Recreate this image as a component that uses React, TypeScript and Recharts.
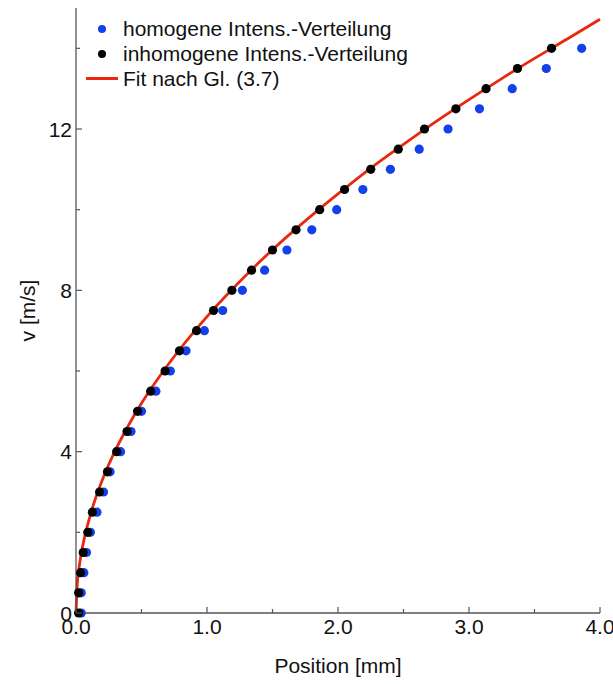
import { ComposedChart, Scatter, Line, XAxis, YAxis, Label } from 'recharts';

// v values (m/s), same for both measurement series
const vHomogen = [0, 0.5, 1, 1.5, 2, 2.5, 3, 3.5, 4, 4.5, 5, 5.5, 6, 6.5, 7, 7.5, 8, 8.5, 9, 9.5, 10, 10.5, 11, 11.5, 12, 12.5, 13, 13.5, 14];
const xHomogen = [0.04, 0.04, 0.06, 0.08, 0.11, 0.16, 0.21, 0.26, 0.34, 0.42, 0.5, 0.61, 0.72, 0.84, 0.98, 1.12, 1.27, 1.44, 1.61, 1.8, 1.99, 2.19, 2.4, 2.62, 2.84, 3.08, 3.33, 3.59, 3.86];

const vInhomogen = [0, 0.5, 1, 1.5, 2, 2.5, 3, 3.5, 4, 4.5, 5, 5.5, 6, 6.5, 7, 7.5, 8, 8.5, 9, 9.5, 10, 10.5, 11, 11.5, 12, 12.5, 13, 13.5, 14];
const xInhomogen = [0.02, 0.02, 0.035, 0.055, 0.09, 0.125, 0.18, 0.24, 0.31, 0.39, 0.47, 0.57, 0.68, 0.79, 0.92, 1.05, 1.19, 1.34, 1.5, 1.68, 1.86, 2.05, 2.25, 2.46, 2.66, 2.9, 3.13, 3.37, 3.63];

// Fit nach Gl. (3.7)
const xFit = [0, 0.01, 0.02, 0.04, 0.07, 0.1, 0.15, 0.2, 0.3, 0.4, 0.5, 0.6, 0.8, 1.0, 1.2, 1.4, 1.6, 1.8, 2.0, 2.25, 2.5, 2.75, 3.0, 3.25, 3.5, 3.75, 4.0];
const vFit = [0, 0.74, 1.04, 1.47, 1.94, 2.32, 2.85, 3.29, 4.03, 4.65, 5.2, 5.69, 6.57, 7.35, 8.05, 8.7, 9.3, 9.86, 10.39, 11.03, 11.62, 12.19, 12.73, 13.25, 13.75, 14.23, 14.72];

const xTicks = [0, 0.5, 1, 1.5, 2, 2.5, 3, 3.5, 4];
const yTicks = [0, 2, 4, 6, 8, 10, 12, 14];

const homogenData = xHomogen.map((x, i) => ({ x, v: vHomogen[i] }));
const inhomogenData = xInhomogen.map((x, i) => ({ x, v: vInhomogen[i] }));
const fitData = xFit.map((x, i) => ({ x, v: vFit[i] }));

const BLUE = '#1240ea';
const RED = '#e8290f';
const FRAME = '#555';
const FONT = '"Liberation Sans", Arial, Helvetica, sans-serif';

const Dot = (props: any) => {
  const { cx, cy, fill } = props;
  if (cx == null || cy == null) return null;
  return <circle cx={cx} cy={cy} r={4.6} fill={fill} />;
};

const isMajorX = (v: number) => Number.isInteger(v);
const isMajorY = (v: number) => v % 4 === 0;

const BottomTick = (props: any) => {
  const { x, y, payload } = props;
  const major = isMajorX(payload.value);
  return (
    <g>
      <line x1={x} y1={y} x2={x} y2={y - (major ? 6 : 4)} stroke={FRAME} strokeWidth={1.2} />
      {major && (
        <text x={x} y={y + 21} textAnchor="middle" fontSize={21} fill="#111" fontFamily={FONT}>
          {payload.value.toFixed(1)}
        </text>
      )}
    </g>
  );
};

const TopTick = (props: any) => {
  const { x, y, payload } = props;
  const major = isMajorX(payload.value);
  return <line x1={x} y1={y} x2={x} y2={y + (major ? 6 : 4)} stroke={FRAME} strokeWidth={1.2} />;
};

const LeftTick = (props: any) => {
  const { x, y, payload } = props;
  const major = isMajorY(payload.value);
  return (
    <g>
      <line x1={x} y1={y} x2={x + (major ? 6 : 4)} y2={y} stroke={FRAME} strokeWidth={1.2} />
      {major && (
        <text x={x - 4} y={y + 7.5} textAnchor="end" fontSize={21} fill="#111" fontFamily={FONT}>
          {payload.value}
        </text>
      )}
    </g>
  );
};

const RightTick = (props: any) => {
  const { x, y, payload } = props;
  const major = isMajorY(payload.value);
  return <line x1={x} y1={y} x2={x - (major ? 6 : 4)} y2={y} stroke={FRAME} strokeWidth={1.2} />;
};

const YTitle = (props: any) => {
  const { viewBox } = props;
  const cx = 27;
  const cy = viewBox.y + viewBox.height / 2;
  return (
    <text x={cx} y={cy} transform={`rotate(-90 ${cx} ${cy})`} textAnchor="middle" dominantBaseline="central" fontSize={21} fill="#111" fontFamily={FONT}>
      v [m/s]
    </text>
  );
};

const legendItems = [
  { label: 'homogene Intens.-Verteilung', kind: 'dot', color: BLUE },
  { label: 'inhomogene Intens.-Verteilung', kind: 'dot', color: '#000' },
  { label: 'Fit nach Gl. (3.7)', kind: 'line', color: RED },
];

export default function App() {
  return (
    <div style={{ position: 'absolute', left: 0, top: 0, width: 613, height: 684, background: '#fff', fontFamily: FONT }}>
      <ComposedChart width={613} height={684} margin={{ top: 8, right: 13, bottom: 0, left: 0 }}>
        <XAxis
          xAxisId="b"
          type="number"
          dataKey="x"
          domain={[0, 4]}
          ticks={xTicks}
          interval={0}
          height={71}
          tickSize={0}
          tickMargin={0}
          tickLine={false}
          axisLine={{ stroke: FRAME, strokeWidth: 1.3 }}
          tick={<BottomTick />}
        >
          <Label value="Position [mm]" position="insideBottom" offset={11} fontSize={21} fill="#111" fontFamily={FONT} />
        </XAxis>
        <XAxis
          xAxisId="t"
          orientation="top"
          type="number"
          dataKey="x"
          domain={[0, 4]}
          ticks={xTicks}
          interval={0}
          height={0}
          tickSize={0}
          tickMargin={0}
          tickLine={false}
          axisLine={{ stroke: FRAME, strokeWidth: 1.3 }}
          tick={<TopTick />}
        />
        <YAxis
          yAxisId="l"
          type="number"
          dataKey="v"
          domain={[0, 15]}
          ticks={yTicks}
          interval={0}
          width={76}
          tickSize={0}
          tickMargin={0}
          tickLine={false}
          axisLine={{ stroke: FRAME, strokeWidth: 1.3 }}
          tick={<LeftTick />}
        >
          <Label content={<YTitle />} />
        </YAxis>
        <YAxis
          yAxisId="r"
          orientation="right"
          type="number"
          dataKey="v"
          domain={[0, 15]}
          ticks={yTicks}
          interval={0}
          width={0}
          tickSize={0}
          tickMargin={0}
          tickLine={false}
          axisLine={{ stroke: FRAME, strokeWidth: 1.3 }}
          tick={<RightTick />}
        />
        <Scatter xAxisId="b" yAxisId="l" data={homogenData} dataKey="v" fill={BLUE} shape={<Dot />} isAnimationActive={false} />
        <Scatter xAxisId="b" yAxisId="l" data={inhomogenData} dataKey="v" fill="#000" shape={<Dot />} isAnimationActive={false} />
        <Line
          xAxisId="b"
          yAxisId="l"
          data={fitData}
          dataKey="v"
          type="monotone"
          stroke={RED}
          strokeWidth={2.8}
          dot={false}
          activeDot={false}
          isAnimationActive={false}
        />
      </ComposedChart>
      <div style={{ position: 'absolute', left: 80, top: 16, lineHeight: '25px', fontSize: 21, color: '#111' }}>
        {legendItems.map((item) => (
          <div key={item.label} style={{ display: 'flex', alignItems: 'center', height: 25 }}>
            <span style={{ width: 43, display: 'inline-flex', justifyContent: 'center', alignItems: 'center' }}>
              {item.kind === 'dot' ? (
                <span style={{ width: 8, height: 8, borderRadius: 4, background: item.color, display: 'inline-block' }} />
              ) : (
                <span style={{ width: 32, height: 3, background: item.color, display: 'inline-block' }} />
              )}
            </span>
            <span>{item.label}</span>
          </div>
        ))}
      </div>
    </div>
  );
}
